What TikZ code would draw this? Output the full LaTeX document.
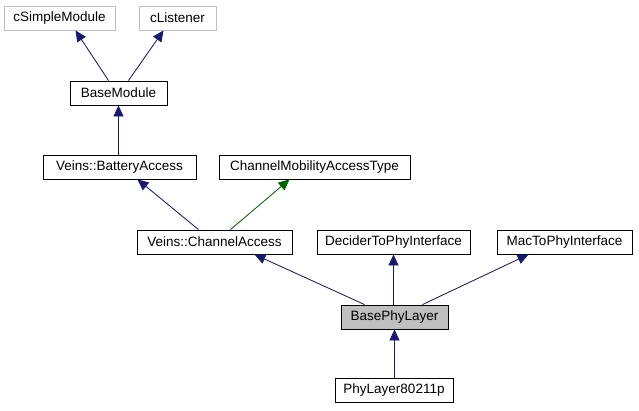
\documentclass[tikz,border=0pt]{standalone}
\usepackage{fontspec}
\setmainfont{Liberation Sans}
\usepackage{tikz}
\usetikzlibrary{arrows.meta}
\definecolor{herencia}{HTML}{191970}
\definecolor{protegida}{HTML}{006400}
\definecolor{borde}{HTML}{BFBFBF}

\begin{document}
\begin{tikzpicture}[x=1pt, y=-1pt,
      c/.style={draw, line width=0.9pt, fill=white, minimum height=24pt, inner sep=0pt, font=\fontsize{13.5}{15}\selectfont},
      ext/.style={c, draw=borde},
      inh/.style={draw=herencia, line width=0.8pt, -{Triangle[length=11pt, width=10pt]}, fill=herencia},
      prot/.style={inh, draw=protegida, fill=protegida}]
    \useasboundingbox (0,0) rectangle (639,411);
    \node[ext, minimum width=111pt] (sm) at (59.5,18) {cSimpleModule};
    \node[ext, minimum width=77pt] (li) at (177.5,18) {cListener};
    \node[c, minimum width=97pt] (bm) at (118.5,93) {BaseModule};
    \node[c, minimum width=153pt] (ba) at (119.5,167) {Veins::BatteryAccess};
    \node[c, minimum width=191pt] (cm) at (314.5,167) {ChannelMobilityAccessType};
    \node[c, minimum width=155pt] (ca) at (214.5,242) {Veins::ChannelAccess};
    \node[c, minimum width=153pt] (dp) at (393.5,242) {DeciderToPhyInterface};
    \node[c, minimum width=135pt] (mp) at (564.5,242) {MacToPhyInterface};
    \node[c, fill=borde, minimum width=107pt] (bp) at (394.5,317) {BasePhyLayer};
    \node[c, minimum width=118pt] (p11) at (394,390) {PhyLayer80211p};
    \draw[inh] ([xshift=-10pt]bm.north) -- ([xshift=16pt]sm.south);
    \draw[inh] ([xshift=10pt]bm.north) -- ([xshift=-14pt]li.south);
    \draw[inh] ([xshift=-1pt]ba.north) -- (bm.south);
    \draw[inh] ([xshift=-16pt]ca.north) -- ([xshift=18pt]ba.south);
    \draw[prot] ([xshift=16pt]ca.north) -- ([xshift=-25pt]cm.south);
    \draw[inh] ([xshift=-30pt]bp.north) -- ([xshift=40pt]ca.south);
    \draw[inh] ([xshift=-1pt]bp.north) -- (dp.south);
    \draw[inh] ([xshift=28pt]bp.north) -- ([xshift=-36pt]mp.south);
    \draw[inh] ([xshift=0.5pt]p11.north) -- (bp.south);
  \end{tikzpicture}
\end{document}
